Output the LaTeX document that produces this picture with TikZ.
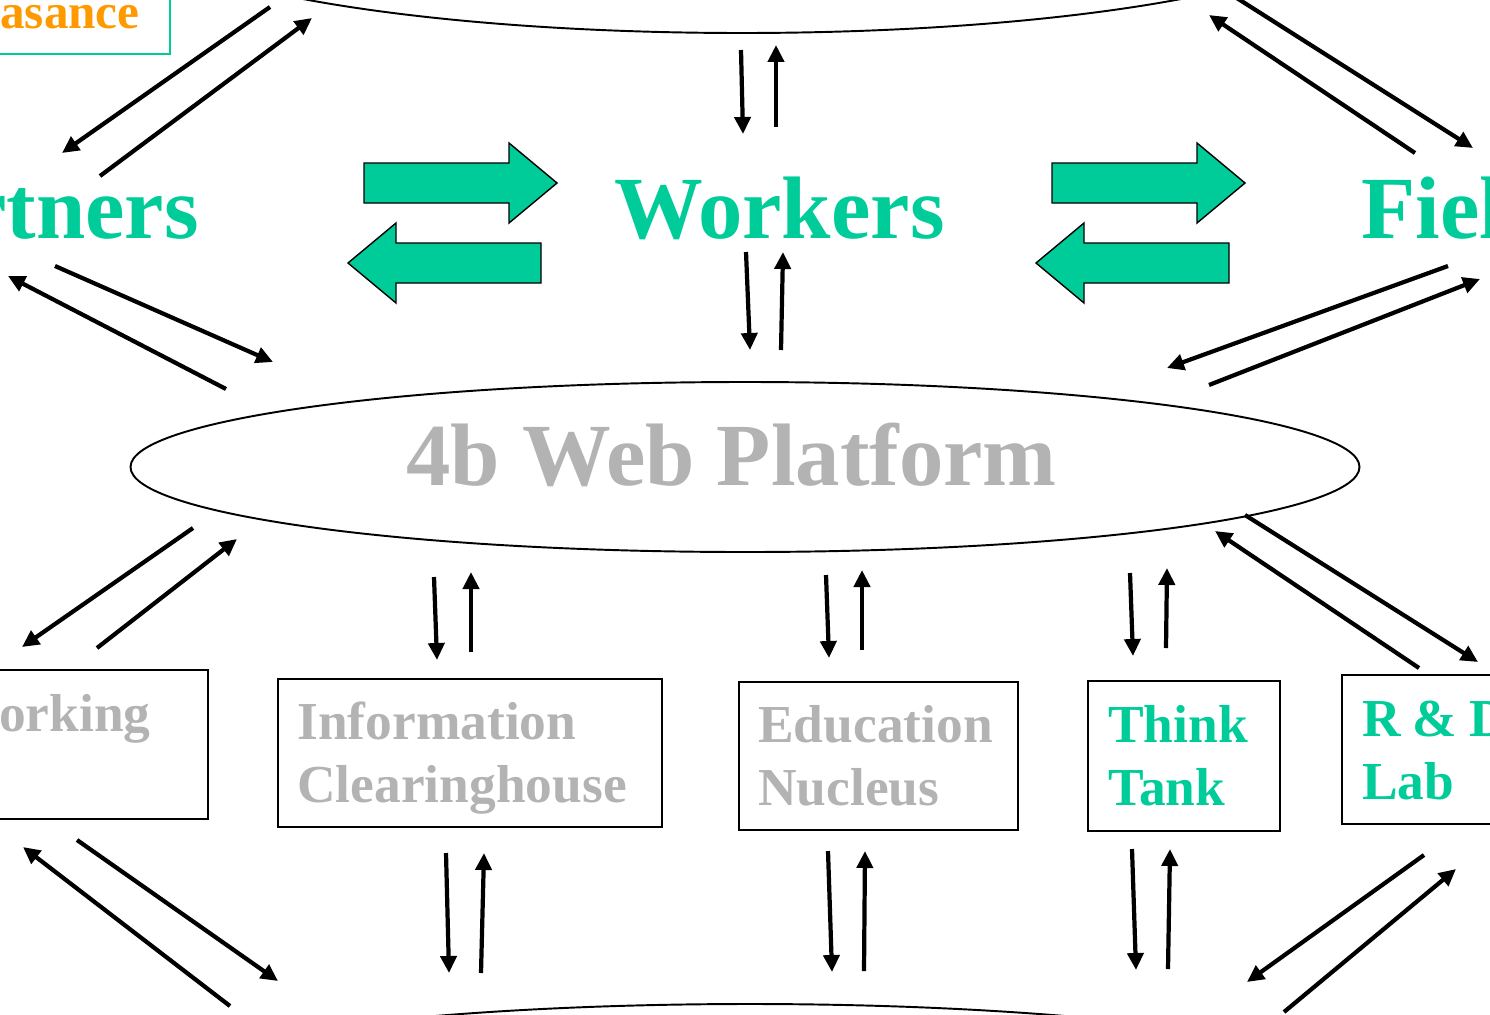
\documentclass[tikz,border=0pt]{standalone}
\usepackage{fontspec}
\setmainfont{Liberation Serif}
\usetikzlibrary{shapes.geometric,arrows.meta}
\definecolor{tgreen}{HTML}{00CC99}
\definecolor{tgray}{HTML}{B3B3B3}
\definecolor{torange}{HTML}{FF9900}
\newdimen\pxu \pxu=0.02cm
\begin{document}
\begin{tikzpicture}[x=0.02cm,y=-0.02cm,
  lbl/.style={font=\bfseries\fontsize{50.5}{60}\selectfont, text=tgreen, inner sep=0, anchor=base west},
  boxtxt/.style={font=\bfseries\fontsize{30.4}{36.4}\selectfont, inner sep=0, anchor=base west, align=left, text width=380\pxu},
  boxone/.style={font=\bfseries\fontsize{30.4}{36.4}\selectfont, inner sep=0},
  arr/.style={line width=2.4pt, -{Triangle[length=0.34cm,width=0.32cm]}},
  oval/.style={ellipse, draw, line width=1.1pt, inner sep=0},
  unit/.style={draw, line width=1.1pt, inner sep=0, anchor=north west},
  block/.style={fill=tgreen, draw=black, line width=0.8pt, line join=miter}
]
\useasboundingbox (0,0) rectangle (1490,1014);
\clip (0,0) rectangle (1490,1014);

% ovals
\node[oval, minimum width=1228\pxu, minimum height=226\pxu] (top) at (742,-80) {};
\node[oval, minimum width=1229\pxu, minimum height=170\pxu] (web) at (745,467) {};
\node[oval, minimum width=1228\pxu, minimum height=170\pxu] (bot) at (750,1089) {};
\node[lbl, text=tgray] (webT) at (406,485) {4b Web Platform};

% top-left box
\node[draw=tgreen, line width=1.1pt, inner sep=0, minimum width=330\pxu, minimum height=115\pxu, anchor=south east] (ren) at (171,55) {};
\node[font=\bfseries\fontsize{28}{34}\selectfont, text=torange, inner sep=0, anchor=base east] (renT) at (140,29) {Renasance};

% labels
\node[lbl, anchor=base east] (partners) at (199,238) {Partners};
\node[lbl] (workers) at (614,238) {Workers};
\node[lbl] (field) at (1361,238) {Field};

% block arrows
\foreach \dx in {0,688}{
  \begin{scope}[shift={(\dx,0)}]
    \filldraw[block] (364,163) -- (509,163) -- (509,143) -- (557,183) -- (509,223) -- (509,203) -- (364,203) -- cycle;
    \filldraw[block] (541,243) -- (396,243) -- (396,223) -- (348,263) -- (396,303) -- (396,283) -- (541,283) -- cycle;
  \end{scope}
}

% boxes
\node[unit, minimum width=217\pxu, minimum height=149\pxu] (net) at (-10,669) {};
\node[unit, minimum width=384\pxu, minimum height=148\pxu] (info) at (277,678) {};
\node[unit, minimum width=279\pxu, minimum height=148\pxu] (edu) at (738,681) {};
\node[unit, minimum width=192\pxu, minimum height=150\pxu] (think) at (1087,680) {};
\node[unit, minimum width=200\pxu, minimum height=149\pxu] (rd) at (1341,674) {};

\node[boxone, text=tgray, anchor=base east] (netT) at (151,731) {Networking};
\node[boxtxt, text=tgray] (infoT) at (297,739) {Information\\Clearinghouse};
\node[boxtxt, text=tgray] (eduT) at (758,742) {Education\\Nucleus};
\node[boxtxt, text=tgreen] (thinkT) at (1108,742) {Think\\Tank};
\node[boxtxt, text=tgreen] (rdT) at (1362,736) {R\hspace{0.22em}\&\hspace{0.24em}D\\Lab};

% thin arrows
\foreach \n/\xa/\ya/\xb/\yb in {
  1/270/7/62/153, 2/100/176/312/18, 3/55/266/273/362, 4/226/389/8/276,
  5/1415/153/1209/15, 6/1232/-5/1473/148, 7/1448/266/1167/368, 8/1209/385/1480/279,
  9/741/50/743/134, 10/776/127/776/45, 11/746/252/750/350, 12/781/350/783/252,
  13/193/528/22/647, 14/97/648/237/539, 15/1419/668/1215/531, 16/1245/515/1478/662,
  17/434/577/437/660, 18/471/652/471/572, 19/826/575/829/658, 20/862/650/862/570,
  21/1130/573/1133/656, 22/1166/648/1167/568,
  23/446/853/449/973, 24/481/973/484/853, 25/828/851/832/972, 26/864/971/865/851,
  27/1132/849/1136/970, 28/1168/969/1170/849,
  29/77/840/278/981, 30/230/1006/23/847, 31/1424/855/1247/982, 32/1284/1012/1456/869}{
  \coordinate (s\n) at (\xa,\ya);
  \coordinate (e\n) at (\xb,\yb);
  \draw[arr] (s\n) -- (e\n);
}
\end{tikzpicture}
\end{document}
